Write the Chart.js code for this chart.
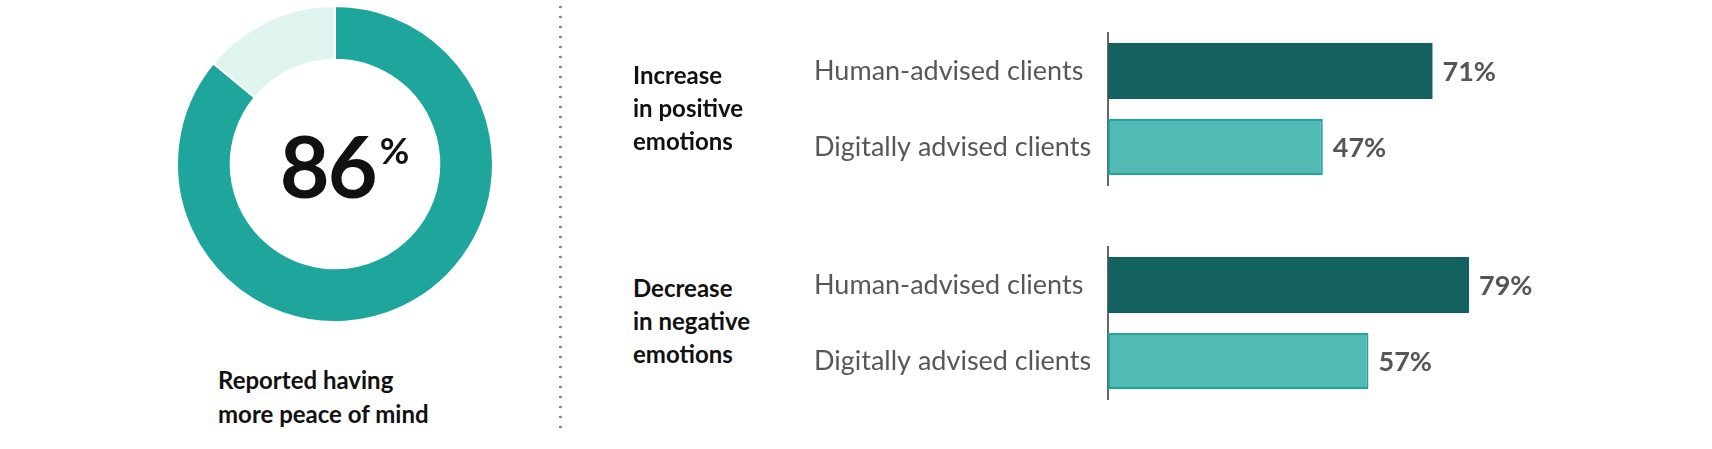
<!DOCTYPE html>
<html>
<head>
<meta charset="utf-8">
<script src="https://cdn.jsdelivr.net/npm/chart.js@4.4.1/dist/chart.umd.min.js"></script>
<style>
  html, body { margin: 0; padding: 0; background: #fff; }
  #page { position: relative; width: 1712px; height: 449px; overflow: hidden; font-family: Lato, "Noto Sans", sans-serif; }
  .abs { position: absolute; }
  .title { font-weight: 700; font-size: 24px; line-height: 33px; color: #111; }
  #caption { left: 218px; top: 363px; font-weight: 700; font-size: 24px; line-height: 34px; color: #111; }
  #bigNum { left: 0; width: 689px; top: 122px; text-align: center; font-weight: 700; color: #111; white-space: nowrap; }
  #bigNum .num { font-size: 86px; line-height: 86px; letter-spacing: -2px; }
  #bigNum .pct { font-size: 36px; line-height: 36px; vertical-align: top; position: relative; top: 10px; margin-left: 4px; }
  #divider { left: 559px; top: 2px; width: 3px; height: 430px;
    background: radial-gradient(circle, #8a8a8a 1.2px, transparent 1.6px) 0 0 / 3px 10px repeat-y; }
</style>
</head>
<body>
<div id="page">
  <canvas id="donutChart" class="abs" style="left:176px; top:5px;"></canvas>
  <div id="bigNum" class="abs"><span class="num">86</span><span class="pct">%</span></div>
  <div id="caption" class="abs">Reported having<br>more peace of mind</div>
  <div id="divider" class="abs"></div>

  <div id="title1" class="abs title" style="left:633px; top:58px;"></div>
  <div id="title2" class="abs title" style="left:633px; top:271px;"></div>
  <canvas id="positiveChart" class="abs" style="left:814px; top:13px;"></canvas>
  <canvas id="negativeChart" class="abs" style="left:814px; top:227px;"></canvas>
</div>

<script>
// Datos del gráfico
const donutLabels = ['Reported having more peace of mind', 'Other'];
const donutValues = [86, 14];

const clientTypes = ['Human-advised clients', 'Digitally advised clients'];
const groupTitles = [
  ['Increase', 'in positive', 'emotions'],
  ['Decrease', 'in negative', 'emotions']
];
const positiveValues = [71, 47];
const negativeValues = [79, 57];

const fontFamily = 'Lato, "Noto Sans", sans-serif';

window.onload = function () {
  document.getElementById('title1').innerHTML = groupTitles[0].join('<br>');
  document.getElementById('title2').innerHTML = groupTitles[1].join('<br>');

  // Donut - peace of mind
  const donutCanvas = document.getElementById('donutChart');
  donutCanvas.width = 318;
  donutCanvas.height = 318;
  new Chart(donutCanvas.getContext('2d'), {
    type: 'doughnut',
    data: {
      labels: donutLabels,
      datasets: [{
        data: donutValues,
        backgroundColor: ['#1ea59c', '#dff4ee'],
        borderColor: '#ffffff',
        borderWidth: 2
      }]
    },
    options: {
      responsive: false,
      animation: false,
      cutout: '66%',
      plugins: { legend: { display: false }, tooltip: { enabled: false } }
    }
  });

  // Etiquetas de valor al final de cada barra
  const valueLabels = {
    id: 'valueLabels',
    afterDatasetsDraw(chart) {
      const ctx = chart.ctx;
      const ds = chart.data.datasets[0];
      chart.getDatasetMeta(0).data.forEach((bar, i) => {
        ctx.save();
        ctx.font = 'bold 27px ' + fontFamily;
        ctx.fillStyle = '#555555';
        ctx.textAlign = 'left';
        ctx.textBaseline = 'middle';
        ctx.fillText(ds.data[i] + '%', bar.x + 10, bar.y + 1);
        ctx.restore();
      });
    }
  };

  function barChart(id, values) {
    const canvas = document.getElementById(id);
    canvas.width = 880;
    canvas.height = 192;
    return new Chart(canvas.getContext('2d'), {
      type: 'bar',
      data: {
        labels: clientTypes,
        datasets: [{
          data: values,
          backgroundColor: ['#13625f', '#52b9b4'],
          borderColor: ['#13625f', '#1fa59b'],
          borderWidth: [0, 2],
          borderSkipped: false,
          barPercentage: 0.74,
          categoryPercentage: 1
        }]
      },
      options: {
        indexAxis: 'y',
        responsive: false,
        animation: false,
        layout: { padding: { left: 0, right: 129, top: 20, bottom: 20 } },
        plugins: { legend: { display: false }, tooltip: { enabled: false } },
        scales: {
          x: { min: 0, max: 100, display: false },
          y: {
            grid: { display: false, drawTicks: false },
            border: { display: true, color: '#666666', width: 2 },
            ticks: {
              crossAlign: 'far',
              color: '#575757',
              font: { family: fontFamily, size: 27, weight: 'normal' }
            },
            afterFit(scale) { scale.width = 294; }
          }
        }
      },
      plugins: [valueLabels]
    });
  }

  barChart('positiveChart', positiveValues);
  barChart('negativeChart', negativeValues);
};
</script>
</body>
</html>
